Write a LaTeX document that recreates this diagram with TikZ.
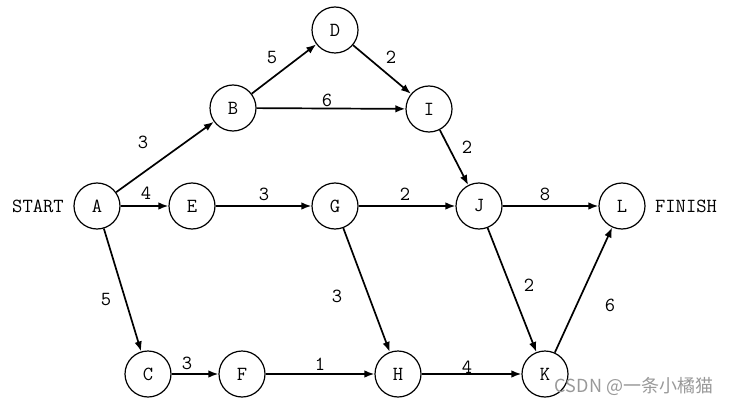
\documentclass[tikz,border=0pt]{standalone}
\usepackage{fontspec}
\newfontfamily\wmfont{Noto Sans CJK SC}
\usetikzlibrary{arrows.meta}
\tikzset{
  vtx/.style={circle, draw, line width=1.2pt, minimum size=46pt, inner sep=0pt, font=\ttfamily\fontsize{20}{24}\selectfont},
  edge/.style={line width=1.7pt, -{Latex[length=10pt,width=7.5pt]}},
  lbl/.style={font=\ttfamily\fontsize{20}{24}\selectfont, inner sep=0pt},
  side/.style={font=\ttfamily\fontsize{20}{24}\selectfont, inner sep=0pt},
}
\begin{document}
\begin{tikzpicture}[x=1pt,y=-1pt]
\useasboundingbox (0,0) rectangle (735,406);
\node[vtx] (A) at (97,206) {A};
\node[vtx] (B) at (233,108) {B};
\node[vtx] (D) at (335,30) {D};
\node[vtx] (I) at (429,109) {I};
\node[vtx] (E) at (192,206) {E};
\node[vtx] (G) at (335,206) {G};
\node[vtx] (J) at (479,206) {J};
\node[vtx] (L) at (622,206) {L};
\node[vtx] (C) at (148,374) {C};
\node[vtx] (F) at (242,374) {F};
\node[vtx] (H) at (398,374) {H};
\node[vtx] (K) at (545,374) {K};
\node[side] (start) at (38,206) {START};
\node[side] (finish) at (686,206) {FINISH};

\draw[edge] (A) -- (B) node[lbl] at (143,142) {3};
\draw[edge] (B) -- (D) node[lbl] at (272,58) {5};
\draw[edge] (B) -- (I) node[lbl] at (327,100) {6};
\draw[edge] (D) -- (I) node[lbl] at (391,57) {2};
\draw[edge] (A) -- (E) node[lbl] at (146,193) {4};
\draw[edge] (E) -- (G) node[lbl] at (264,194) {3};
\draw[edge] (G) -- (J) node[lbl] at (405,194) {2};
\draw[edge] (I) -- (J) node[lbl] at (467,147) {2};
\draw[edge] (J) -- (L) node[lbl] at (545,194) {8};
\draw[edge] (A) -- (C) node[lbl] at (106,300) {5};
\draw[edge] (G) -- (H) node[lbl] at (337,296) {3};
\draw[edge] (C) -- (F) node[lbl] at (187,363) {3};
\draw[edge] (F) -- (H) node[lbl] at (320,364) {1};
\draw[edge] (H) -- (K) node[lbl] at (467,367) {4};
\draw[edge] (J) -- (K) node[lbl] at (529,285) {2};
\draw[edge] (K) -- (L) node[lbl] at (610,305) {6};

\node[text=black!40, font=\wmfont\fontsize{18}{21}\selectfont, inner sep=0pt] (wm) at (634,386) {CSDN @一条小橘猫};
\end{tikzpicture}
\end{document}
